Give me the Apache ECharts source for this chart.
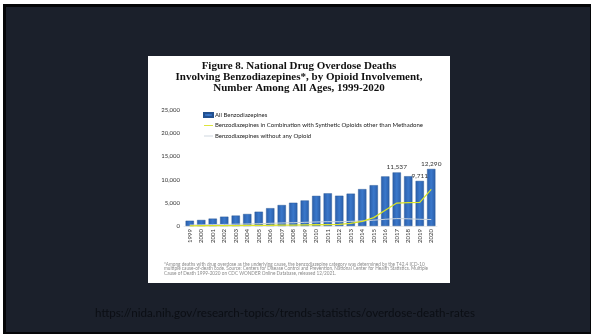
<!DOCTYPE html>
<html>
<head>
<meta charset="utf-8">
<script src="https://cdn.jsdelivr.net/npm/echarts@6/dist/echarts.min.js"></script>
<style>
  html, body { margin: 0; padding: 0; background: #ffffff; }
  #chart { width: 591px; height: 335px; }
</style>
</head>
<body>
<div id="chart"></div>
<script>
// Overdose deaths involving benzodiazepines, 1999-2020
const years = ['1999','2000','2001','2002','2003','2004','2005','2006','2007','2008','2009',
               '2010','2011','2012','2013','2014','2015','2016','2017','2018','2019','2020'];
const allBenzo = [1135, 1298, 1594, 2007, 2248, 2586, 3078, 3835, 4515, 5010, 5500,
                  6497, 7040, 6524, 6973, 7945, 8791, 10684, 11537, 10724, 9711, 12290];
const benzoSynthetic = [40, 50, 60, 80, 100, 120, 140, 160, 190, 210, 240,
                        270, 300, 330, 560, 1000, 1800, 3400, 4950, 5050, 5100, 7900];
const benzoNoOpioid = [200, 240, 290, 340, 390, 430, 490, 570, 650, 710, 790,
                       870, 930, 920, 1000, 1100, 1250, 1450, 1600, 1550, 1450, 1400];
const yTicks = [0, 5000, 10000, 15000, 20000, 25000];
const labeledYears = ['2017', '2019', '2020'];

const seriesNames = [
  'All Benzodiazepines',
  'Benzodiazepines in Combination with Synthetic Opioids other than Methadone',
  'Benzodiazepines without any Opioid'
];

const titleLines = [
  'Figure 8. National Drug Overdose Deaths',
  'Involving Benzodiazepines*, by Opioid Involvement,',
  'Number Among All Ages, 1999-2020'
];

const footnoteLines = [
  '*Among deaths with drug overdose as the underlying cause, the benzodiazepine category was determined by the T42.4 ICD-10',
  'multiple cause-of-death code. Source: Centers for Disease Control and Prevention, National Center for Health Statistics. Multiple',
  'Cause of Death 1999-2020 on CDC WONDER Online Database, released 12/2021.'
];

const sourceUrl = 'https://nida.nih.gov/research-topics/trends-statistics/overdose-death-rates';

const fmt = v => Number(v).toLocaleString('en-US');

const chart = echarts.init(document.getElementById('chart'), null, { renderer: 'canvas' });

// one centred text element per title line
const titleElements = titleLines.map((line, i) => ({
  type: 'text', z: 5, x: 299, y: 66 + i * 11,
  style: {
    text: line, fill: '#111111', align: 'center', verticalAlign: 'middle',
    font: 'bold 11px "Liberation Serif", serif'
  }
}));

const footElements = footnoteLines.map((line, i) => ({
  type: 'text', z: 5, x: 164, y: 264 + i * 4.9,
  style: {
    text: line, fill: '#8a8a8a', align: 'left', verticalAlign: 'middle',
    font: '4.7px Lato, sans-serif'
  }
}));

const option = {
  animation: false,
  backgroundColor: '#ffffff',
  graphic: [
    { type: 'rect', z: -10, shape: { x: 3, y: 4, width: 588, height: 330 }, style: { fill: '#050608' } },
    { type: 'rect', z: -9, shape: { x: 6, y: 7, width: 584, height: 325 }, style: { fill: '#1b202b' } },
    { type: 'rect', z: -8, shape: { x: 148, y: 56, width: 302, height: 227 }, style: { fill: '#ffffff' } },
    ...titleElements,
    ...footElements,
    {
      type: 'text', z: 5, x: 95, y: 313,
      style: {
        text: sourceUrl, fill: '#0b0e14', align: 'left', verticalAlign: 'middle',
        font: '11.6px Lato, sans-serif'
      }
    }
  ],
  legend: {
    orient: 'vertical',
    left: 198, top: 107,
    itemWidth: 9, itemHeight: 4, itemGap: 4.5,
    textStyle: { fontFamily: 'Lato', fontSize: 6, color: '#222222', padding: [0, 0, 0, -3] },
    data: [
      { name: seriesNames[0], icon: 'rect' },
      { name: seriesNames[1], icon: 'path://M0,4.5 L10,4.5 L10,5.5 L0,5.5 Z' },
      { name: seriesNames[2], icon: 'path://M0,4.5 L10,4.5 L10,5.5 L0,5.5 Z' }
    ]
  },
  grid: { left: 184, right: 154, top: 110, bottom: 109, containLabel: false },
  xAxis: {
    type: 'category',
    data: years,
    axisLine: { show: true, lineStyle: { color: '#d9d9d9', width: 0.5 } },
    axisTick: { show: false },
    axisLabel: {
      rotate: 90, fontFamily: 'Lato', fontSize: 6, color: '#333333', margin: 3,
      interval: 0
    }
  },
  yAxis: {
    type: 'value',
    min: yTicks[0], max: yTicks[yTicks.length - 1], interval: 5000,
    splitLine: { show: false },
    axisLine: { show: false },
    axisTick: { show: false },
    axisLabel: {
      fontFamily: 'Lato', fontSize: 6, color: '#333333', margin: 4,
      formatter: v => fmt(v)
    }
  },
  series: [
    {
      name: seriesNames[0],
      type: 'bar',
      data: allBenzo,
      barWidth: '72%',
      itemStyle: {
        color: new echarts.graphic.LinearGradient(0, 0, 1, 0, [
          { offset: 0, color: '#2b5ea9' },
          { offset: 0.5, color: '#3a78cb' },
          { offset: 1, color: '#2b5ea9' }
        ]),
        borderColor: '#22508f', borderWidth: 0.4
      },
      label: {
        show: true, position: 'top', distance: 2,
        fontFamily: 'Lato', fontSize: 6.5, color: '#333333',
        formatter: p => labeledYears.includes(p.name) ? fmt(p.value) : ''
      },
      z: 2
    },
    {
      name: seriesNames[1],
      type: 'line',
      data: benzoSynthetic,
      symbol: 'none',
      lineStyle: { color: '#dbe327', width: 1.3 },
      itemStyle: { color: '#dbe327' },
      z: 4
    },
    {
      name: seriesNames[2],
      type: 'line',
      data: benzoNoOpioid,
      symbol: 'none',
      lineStyle: { color: '#c9d2dc', width: 1 },
      itemStyle: { color: '#c9d2dc' },
      z: 3
    }
  ]
};

chart.setOption(option);
</script>
</body>
</html>
